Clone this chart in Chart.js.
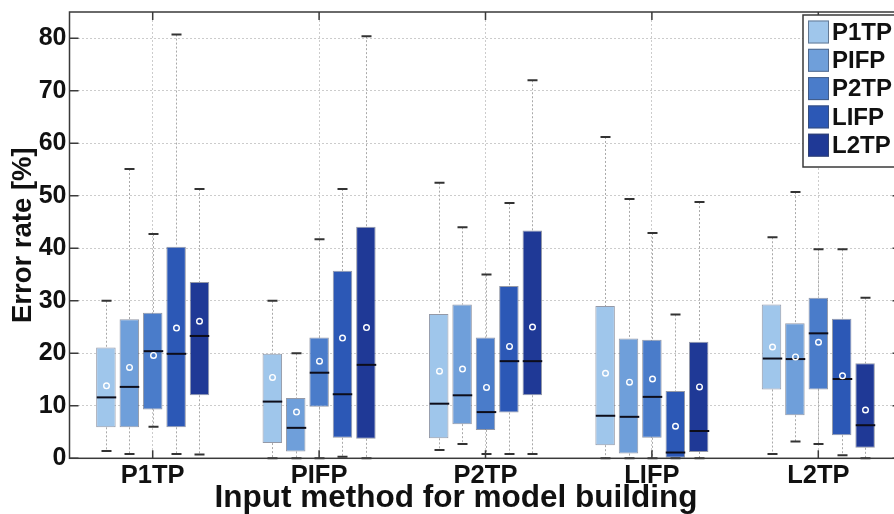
<!DOCTYPE html>
<html><head><meta charset="utf-8">
<script src="https://cdn.jsdelivr.net/npm/chart.js@4.4.0/dist/chart.umd.min.js"></script>
<style>html,body{margin:0;padding:0;overflow:hidden;background:#fff;width:894px;height:514px}canvas{display:block}</style>
</head><body><canvas id="c" width="910" height="514"></canvas>
<script>
const categories = ['P1TP', 'PIFP', 'P2TP', 'LIFP', 'L2TP'];
const seriesNames = ['P1TP', 'PIFP', 'P2TP', 'LIFP', 'L2TP'];
const seriesColors = ['#9fc6eb', '#6f9fda', '#4a7cca', '#2c58b6', '#1f3996'];
const yTicks = [0, 10, 20, 30, 40, 50, 60, 70, 80];
const xTitle = 'Input method for model building';
const yTitle = 'Error rate [%]';
// [series][category]
const lowerWhisker = [
  [1.4, 0.0, 1.6, 0.0, 0.8],
  [0.8, 0.0, 2.7, 0.0, 3.2],
  [6.0, 0.0, 0.8, 0.0, 2.7],
  [0.8, 0.3, 0.8, 0.0, 0.6],
  [0.7, 0.0, 0.8, 0.0, 0.0]
];
const q1 = [
  [5.9, 2.9, 3.8, 2.5, 13.1],
  [5.9, 1.3, 6.5, 0.9, 8.2],
  [9.3, 9.8, 5.4, 3.9, 13.1],
  [5.9, 3.9, 8.7, 0.0, 4.4],
  [12.0, 3.7, 12.0, 1.2, 2.0]
];
const median = [
  [11.6, 10.8, 10.4, 8.1, 19.0],
  [13.6, 5.8, 12.0, 7.9, 18.9],
  [20.4, 16.3, 8.8, 11.7, 23.8],
  [19.9, 12.2, 18.5, 1.1, 15.1],
  [23.3, 17.8, 18.5, 5.2, 6.3]
];
const q3 = [
  [21.1, 19.9, 27.5, 29.0, 29.3],
  [26.5, 11.5, 29.3, 22.8, 25.7],
  [27.7, 23.0, 23.0, 22.6, 30.6],
  [40.3, 35.7, 32.8, 12.8, 26.6],
  [33.6, 44.1, 43.4, 22.2, 18.1]
];
const upperWhisker = [
  [30.0, 30.0, 52.5, 61.2, 42.1],
  [55.1, 20.0, 44.0, 49.4, 50.7],
  [42.7, 41.7, 35.0, 42.9, 39.8],
  [80.7, 51.3, 48.6, 27.4, 39.8],
  [51.3, 80.4, 72.0, 48.8, 30.6]
];
const meanVals = [
  [13.8, 15.4, 16.6, 16.2, 21.2],
  [17.3, 8.8, 17.0, 14.5, 19.3],
  [19.6, 18.5, 13.5, 15.1, 22.1],
  [24.8, 22.9, 21.3, 6.1, 15.7],
  [26.1, 24.9, 25.0, 13.6, 9.2]
];

const FONT = "'Liberation Sans', Arial, Helvetica, sans-serif";

const boxExtras = {
  id: 'boxExtras',
  beforeDatasetsDraw(chart) {
    const ctx = chart.ctx, y = chart.scales.y;
    ctx.save();
    ctx.strokeStyle = '#a9a9a9';
    ctx.lineWidth = 1;
    ctx.setLineDash([2, 2]);
    chart.data.datasets.forEach((ds, i) => {
      chart.getDatasetMeta(i).data.forEach((bar, j) => {
        const x = Math.round(bar.x) + 0.5;
        ctx.beginPath();
        ctx.moveTo(x, y.getPixelForValue(upperWhisker[i][j]));
        ctx.lineTo(x, y.getPixelForValue(q3[i][j]));
        ctx.moveTo(x, y.getPixelForValue(q1[i][j]));
        ctx.lineTo(x, y.getPixelForValue(lowerWhisker[i][j]));
        ctx.stroke();
      });
    });
    ctx.restore();
  },
  afterDatasetsDraw(chart) {
    const ctx = chart.ctx, y = chart.scales.y;
    ctx.save();
    chart.data.datasets.forEach((ds, i) => {
      chart.getDatasetMeta(i).data.forEach((bar, j) => {
        const x = Math.round(bar.x) + 0.5, w = bar.width;
        ctx.strokeStyle = '#333';
        ctx.lineWidth = 2;
        ctx.beginPath();
        [upperWhisker[i][j], lowerWhisker[i][j]].forEach(v => {
          const py = y.getPixelForValue(v);
          ctx.moveTo(x - 5, py); ctx.lineTo(x + 5, py);
        });
        ctx.stroke();
        ctx.strokeStyle = '#0d0d1a';
        ctx.lineWidth = 2;
        const my = y.getPixelForValue(median[i][j]);
        ctx.beginPath();
        ctx.moveTo(x - w / 2, my); ctx.lineTo(x + w / 2, my);
        ctx.stroke();
        const mny = y.getPixelForValue(meanVals[i][j]);
        ctx.strokeStyle = '#ffffff';
        ctx.lineWidth = 1.4;
        ctx.beginPath();
        ctx.arc(x, mny, 2.8, 0, Math.PI * 2);
        ctx.stroke();
      });
    });
    ctx.restore();
  },
  afterDraw(chart) {
    const ctx = chart.ctx, a = chart.chartArea, y = chart.scales.y, xs = chart.scales.x;
    ctx.save();
    ctx.strokeStyle = '#3a3a3a';
    ctx.lineWidth = 1.5;
    ctx.strokeRect(a.left, a.top, a.right - a.left, a.bottom - a.top);
    ctx.beginPath();
    yTicks.forEach(v => {
      const py = y.getPixelForValue(v);
      ctx.moveTo(a.left, py); ctx.lineTo(a.left + 9, py);
      ctx.moveTo(a.right, py); ctx.lineTo(a.right - 9, py);
    });
    categories.forEach((c, j) => {
      const px = xs.getPixelForValue(j);
      ctx.moveTo(px, a.bottom); ctx.lineTo(px, a.bottom - 8);
      ctx.moveTo(px, a.top); ctx.lineTo(px, a.top + 8);
    });
    ctx.stroke();
    // x-axis title
    ctx.fillStyle = '#111';
    ctx.font = 'bold 31.5px ' + FONT;
    ctx.textAlign = 'center';
    ctx.textBaseline = 'middle';
    ctx.fillText(xTitle, 456, 498);
    // legend
    const lx = 803, ly = 15, lw = 110, lh = 152;
    ctx.fillStyle = '#fff';
    ctx.fillRect(lx, ly, lw, lh);
    ctx.strokeStyle = '#3a3a3a';
    ctx.lineWidth = 1.5;
    ctx.strokeRect(lx, ly, lw, lh);
    ctx.font = 'bold 24px ' + FONT;
    ctx.textBaseline = 'middle';
    ctx.textAlign = 'left';
    seriesNames.forEach((n, i) => {
      const cy = ly + 17 + i * 28.3;
      ctx.fillStyle = seriesColors[i];
      ctx.fillRect(lx + 5, cy - 11.5, 21, 23);
      ctx.strokeStyle = 'rgba(60,70,90,0.6)';
      ctx.lineWidth = 1;
      ctx.strokeRect(lx + 5.5, cy - 11, 20, 22);
      ctx.fillStyle = '#111';
      ctx.fillText(n, lx + 29, cy + 1);
    });
    ctx.restore();
  }
};

new Chart(document.getElementById('c'), {
  type: 'bar',
  data: {
    labels: categories,
    datasets: seriesNames.map((n, i) => ({
      label: n,
      data: categories.map((c, j) => [q1[i][j], q3[i][j]]),
      backgroundColor: seriesColors[i],
      borderColor: 'rgba(60,70,95,0.55)',
      borderWidth: 1,
      borderSkipped: false,
      categoryPercentage: 0.703,
      barPercentage: 0.833
    }))
  },
  options: {
    responsive: false,
    animation: false,
    devicePixelRatio: 1,
    layout: { padding: { top: 12, right: 8.5, left: 0, bottom: 0 } },
    plugins: { legend: { display: false }, tooltip: { enabled: false } },
    scales: {
      x: {
        type: 'category',
        offset: true,
        grid: { offset: false, color: '#cccccc', drawTicks: false, lineWidth: 1 },
        border: { display: false, dash: [2, 2] },
        ticks: { color: '#111', font: { family: FONT, size: 25.5, weight: 'bold' }, padding: 2, maxRotation: 0 },
        title: { display: false },
        afterFit(s) { s.height = 55.7; s.paddingLeft = 0; s.paddingRight = 0; }
      },
      y: {
        min: 0, max: 85,
        grid: { color: '#cccccc', drawTicks: false, lineWidth: 1 },
        border: { display: false, dash: [2, 2] },
        ticks: { stepSize: 10, includeBounds: false, color: '#111', padding: 3,
                 font: { family: FONT, size: 25, weight: 'bold' } },
        title: { display: true, text: yTitle, color: '#111',
                 font: { family: FONT, size: 27.5, weight: 'bold', lineHeight: 1.2 }, padding: { top: 7, bottom: 0 } },
        afterFit(s) { s.width = 69.5; s.paddingTop = 0; s.paddingBottom = 0; }
      }
    }
  },
  plugins: [boxExtras]
});
</script>
</body></html>
